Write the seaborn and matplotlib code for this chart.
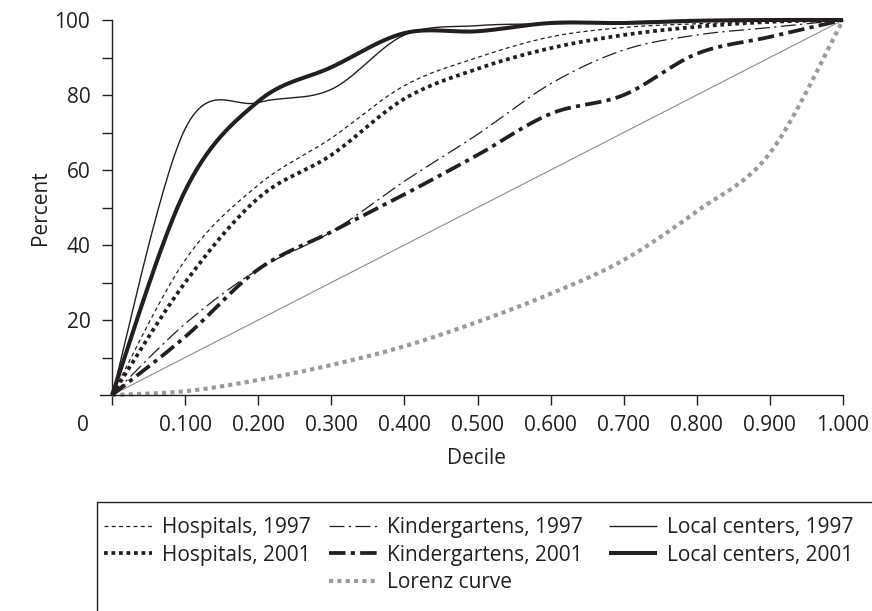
import numpy as np
import pandas as pd
import matplotlib
matplotlib.use("Agg")
import matplotlib.pyplot as plt
from matplotlib.lines import Line2D
import seaborn as sns

# Cumulative share (percent) of each service reached by decile
deciles = [0.0, 0.1, 0.2, 0.3, 0.4, 0.5, 0.6, 0.7, 0.8, 0.9, 1.0]
hospitals_1997 = [0, 36, 56, 68.5, 82.5, 90, 95.5, 98, 99, 99.5, 100]
hospitals_2001 = [0, 30, 52.5, 64, 79, 87, 92.5, 96, 98.2, 99.5, 100]
kindergartens_1997 = [0, 19, 33.5, 43.5, 57, 69.5, 83, 92, 96, 98, 100]
kindergartens_2001 = [0, 15.5, 33.5, 43.5, 53.5, 64, 75, 80, 91, 95.5, 100]
local_centers_1997 = [0, 71, 78, 81.5, 96, 98.5, 99, 99.5, 100, 100, 100]
local_centers_2001 = [0, 54.5, 78.3, 87.4, 96.5, 97, 99.2, 99.2, 99.8, 100, 100]
lorenz_curve = [0, 1, 4, 8, 13, 19.5, 27, 36, 49, 64.5, 100]
equality_line = [0, 10, 20, 30, 40, 50, 60, 70, 80, 90, 100]

series_names = [
    "Hospitals, 1997", "Hospitals, 2001",
    "Kindergartens, 1997", "Kindergartens, 2001",
    "Local centers, 1997", "Local centers, 2001",
    "Lorenz curve",
]
x_tick_labels = ["0.100", "0.200", "0.300", "0.400", "0.500",
                 "0.600", "0.700", "0.800", "0.900", "1.000"]
y_tick_values = [10, 20, 30, 40, 50, 60, 70, 80, 90, 100]
y_tick_labels = ["", "20", "", "40", "", "60", "", "80", "", "100"]

INK = "#231f20"
GREY = "#9a9a9a"
FS = 15

styles = {
    "Hospitals, 1997":     dict(color=INK, lw=0.9, ls=(0, (3.2, 2.6))),
    "Hospitals, 2001":     dict(color=INK, lw=2.7, ls=(0, (1.0, 1.0))),
    "Kindergartens, 1997": dict(color=INK, lw=0.9, ls=(0, (12, 3.5, 1.8, 3.5))),
    "Kindergartens, 2001": dict(color=INK, lw=2.7, ls=(0, (4.4, 1.4, 1.1, 1.4))),
    "Local centers, 1997": dict(color=INK, lw=1.0, ls="-"),
    "Local centers, 2001": dict(color=INK, lw=2.9, ls="-"),
    "Lorenz curve":        dict(color=GREY, lw=3.0, ls=(0, (1.0, 1.0))),
}
values = dict(zip(series_names, [hospitals_1997, hospitals_2001,
                                 kindergartens_1997, kindergartens_2001,
                                 local_centers_1997, local_centers_2001,
                                 lorenz_curve]))


def smooth_curve(xs, ys, steps=30):
    """Smoothed (Catmull-Rom / Bezier) path through the given points."""
    p = np.column_stack([xs, ys]).astype(float)
    p = np.vstack([p[0], p, p[-1]])
    t = np.linspace(0, 1, steps, endpoint=False)[:, None]
    parts = []
    for i in range(1, len(p) - 2):
        p0, p1, p2, p3 = p[i - 1], p[i], p[i + 1], p[i + 2]
        c1 = p1 + (p2 - p0) / 6
        c2 = p2 - (p3 - p1) / 6
        parts.append((1 - t) ** 3 * p1 + 3 * (1 - t) ** 2 * t * c1
                     + 3 * (1 - t) * t ** 2 * c2 + t ** 3 * p2)
    parts.append(p[-2][None, :])
    out = np.vstack(parts)
    return out[:, 0], out[:, 1]


sns.set_theme(style="ticks")
plt.rcParams["font.family"] = ["Open Sans", "DejaVu Sans"]
plt.rcParams["text.color"] = INK
plt.rcParams["axes.labelcolor"] = INK
plt.rcParams["xtick.color"] = INK
plt.rcParams["ytick.color"] = INK

W, H = 872, 611
fig = plt.figure(figsize=(W / 100, H / 100), dpi=100)
ax = fig.add_axes([100 / W, (H - 395) / H, 743 / W, 375 / H])

# Line of equality
sns.lineplot(x=deciles, y=equality_line, ax=ax, color="#8c8c8c", lw=0.8,
             estimator=None, sort=False, clip_on=False, legend=False)

draw_order = ["Lorenz curve", "Hospitals, 1997", "Hospitals, 2001",
              "Kindergartens, 1997", "Kindergartens, 2001",
              "Local centers, 1997", "Local centers, 2001"]
for name in draw_order:
    sx, sy = smooth_curve(deciles, values[name])
    df = pd.DataFrame({"Decile": sx, "Percent": sy})
    st = styles[name]
    sns.lineplot(data=df, x="Decile", y="Percent", ax=ax, color=st["color"],
                 lw=st["lw"], linestyle=st["ls"], estimator=None, sort=False,
                 clip_on=False, legend=False, solid_capstyle="butt",
                 dash_capstyle="butt")

ax.set_xlim(-0.0165, 1.0)
ax.set_ylim(0, 100)
for side in ("top", "right"):
    ax.spines[side].set_visible(False)
ax.spines["left"].set_position(("data", 0))
for side in ("left", "bottom"):
    ax.spines[side].set_color(INK)
    ax.spines[side].set_linewidth(1.0)

ax.set_xticks(deciles)
ax.set_xticklabels([""] + x_tick_labels)
ax.set_yticks(y_tick_values)
ax.set_yticklabels(y_tick_labels)
ax.tick_params(axis="both", direction="out", length=7.2, width=1.0,
               labelsize=FS, colors=INK, bottom=True, left=True)
ax.tick_params(axis="x", pad=7.5)
ax.tick_params(axis="y", pad=8.5)
ax.annotate("0", xy=(-0.04, 0), xycoords=("data", "axes fraction"),
            xytext=(0, -14.7), textcoords="offset points",
            ha="center", va="top", fontsize=FS, color=INK)

ax.set_xlabel("Decile", fontsize=FS)
ax.set_ylabel("Percent", fontsize=FS)
ax.xaxis.set_label_coords(0.5074, -0.141)
ax.yaxis.set_label_coords(-0.066, 0.5)


def legend_handle(name):
    st = styles[name]
    return Line2D([], [], color=st["color"], lw=st["lw"], linestyle=st["ls"],
                  dash_capstyle="butt", solid_capstyle="butt")


# Legend: three columns, Lorenz curve sits under the kindergartens
columns = [
    (104, ["Hospitals, 1997", "Hospitals, 2001"]),
    (329, ["Kindergartens, 1997", "Kindergartens, 2001", "Lorenz curve"]),
    (609, ["Local centers, 1997", "Local centers, 2001"]),
]
for x_px, names in columns:
    fig.legend([legend_handle(n) for n in names], names, loc="upper left",
               bbox_to_anchor=(x_px / W, (H - 517) / H), frameon=False,
               fontsize=FS, handlelength=2.3, handletextpad=0.5,
               labelspacing=0.32, borderpad=0, borderaxespad=0)

# Legend box edges
box_top = (H - 502) / H
box_left = 97 / W
fig.add_artist(Line2D([box_left, 1.0], [box_top, box_top],
                      transform=fig.transFigure, color=INK, lw=1.0))
fig.add_artist(Line2D([box_left, box_left], [0.0, box_top],
                      transform=fig.transFigure, color=INK, lw=1.0))

fig.savefig("out.png", dpi=100)
